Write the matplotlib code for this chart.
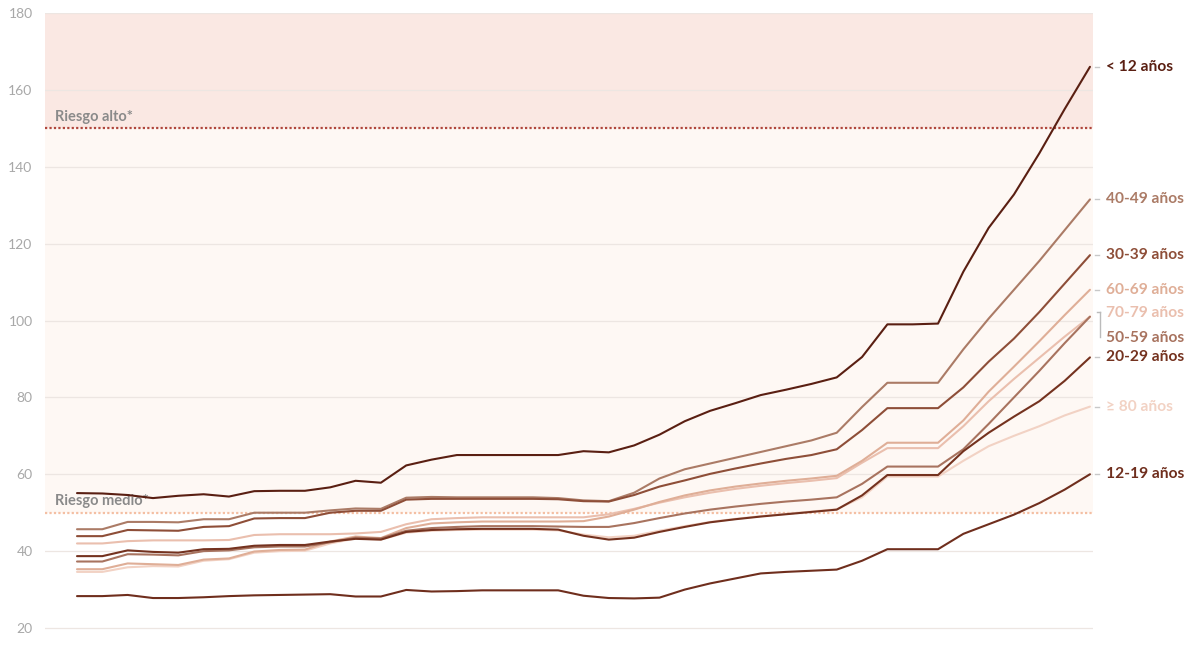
import matplotlib
matplotlib.use("Agg")
import matplotlib.pyplot as plt
import matplotlib.transforms as mtransforms

plt.rcParams['font.family'] = ['Lato', 'DejaVu Sans']

# one value per day
days = list(range(41))

menores_12 = [55.1, 55.0, 54.6, 53.8, 54.4, 54.8, 54.2, 55.6, 55.7, 55.7,
              56.6, 58.3, 57.8, 62.3, 63.8, 65.0, 65.0, 65.0, 65.0, 65.0,
              66.0, 65.7, 67.5, 70.3, 73.8, 76.5, 78.5, 80.6, 82.0, 83.5,
              85.2, 90.5, 99.0, 99.0, 99.2, 112.7, 124.1, 132.8, 143.5, 155.0, 166.0]
edad_12_19 = [28.3, 28.3, 28.6, 27.8, 27.8, 28.0, 28.3, 28.5, 28.6, 28.7,
              28.8, 28.2, 28.2, 29.9, 29.5, 29.6, 29.8, 29.8, 29.8, 29.8,
              28.4, 27.8, 27.7, 27.9, 30.0, 31.6, 32.9, 34.2, 34.6, 34.9,
              35.2, 37.5, 40.5, 40.5, 40.5, 44.5, 47.0, 49.5, 52.5, 56.0, 60.0]
edad_20_29 = [38.7, 38.7, 40.2, 39.8, 39.6, 40.5, 40.6, 41.4, 41.6, 41.6,
              42.5, 43.2, 43.0, 45.0, 45.5, 45.7, 45.8, 45.8, 45.8, 45.6,
              44.0, 43.0, 43.5, 45.0, 46.3, 47.5, 48.3, 49.0, 49.6, 50.2,
              50.8, 54.5, 59.8, 59.8, 59.8, 66.0, 70.8, 75.0, 79.0, 84.3, 90.4]
edad_30_39 = [43.9, 43.9, 45.5, 45.4, 45.3, 46.3, 46.5, 48.5, 48.6, 48.6,
              50.0, 50.5, 50.5, 53.4, 53.6, 53.6, 53.6, 53.6, 53.6, 53.5,
              53.0, 52.9, 54.6, 56.8, 58.4, 60.1, 61.5, 62.8, 64.0, 65.0,
              66.5, 71.5, 77.2, 77.2, 77.2, 82.6, 89.3, 95.3, 102.2, 109.6, 117.0]
edad_40_49 = [45.7, 45.7, 47.6, 47.6, 47.5, 48.3, 48.3, 50.0, 50.0, 50.0,
              50.6, 51.1, 51.0, 53.9, 54.1, 54.0, 54.0, 54.0, 54.0, 53.8,
              53.2, 53.0, 55.2, 58.9, 61.3, 62.8, 64.3, 65.8, 67.3, 68.8,
              70.8, 77.5, 83.8, 83.8, 83.8, 92.5, 100.5, 108.0, 115.5, 123.5, 131.5]
edad_50_59 = [37.3, 37.3, 39.2, 39.1, 38.9, 40.0, 40.2, 41.0, 41.2, 41.2,
              42.3, 43.5, 43.3, 45.3, 46.0, 46.3, 46.5, 46.5, 46.5, 46.4,
              46.3, 46.3, 47.3, 48.6, 49.8, 50.8, 51.6, 52.3, 52.9, 53.4,
              54.0, 57.5, 62.0, 62.0, 62.0, 66.5, 73.1, 80.0, 86.9, 94.1, 101.0]
edad_60_69 = [35.3, 35.3, 36.8, 36.6, 36.4, 37.8, 38.1, 39.9, 40.3, 40.4,
              42.5, 43.8, 43.4, 46.0, 47.2, 47.5, 47.7, 47.7, 47.7, 47.7,
              47.8, 49.0, 50.8, 52.8, 54.5, 55.8, 56.8, 57.6, 58.3, 58.9,
              59.6, 63.5, 68.2, 68.2, 68.2, 74.0, 81.5, 88.0, 94.6, 101.4, 108.0]
edad_70_79 = [42.0, 42.0, 42.6, 42.8, 42.8, 42.8, 42.9, 44.2, 44.4, 44.4,
              44.4, 44.6, 45.0, 47.0, 48.3, 48.6, 48.8, 48.8, 48.8, 48.8,
              48.8, 49.6, 51.0, 52.6, 54.0, 55.2, 56.2, 57.0, 57.7, 58.3,
              59.0, 63.0, 66.8, 66.8, 66.8, 72.5, 79.0, 84.8, 90.3, 95.8, 101.0]
mayores_80 = [34.6, 34.6, 35.8, 36.1, 36.0, 37.5, 37.9, 39.6, 40.0, 40.1,
              42.0, 43.3, 43.0, 44.8, 45.3, 45.5, 45.6, 45.6, 45.6, 45.4,
              44.3, 43.6, 44.0, 45.3, 46.5, 47.6, 48.4, 49.1, 49.7, 50.3,
              50.9, 54.0, 59.4, 59.4, 59.4, 63.5, 67.3, 70.0, 72.5, 75.3, 77.6]

# drawn from lightest to darkest so dark lines sit on top
series = [
    ("≥ 80 años", mayores_80, "#f2d2c4"),
    ("70-79 años", edad_70_79, "#eabfae"),
    ("60-69 años", edad_60_69, "#dfae97"),
    ("50-59 años", edad_50_59, "#a8735f"),
    ("40-49 años", edad_40_49, "#ab7b66"),
    ("30-39 años", edad_30_39, "#8e4e38"),
    ("20-29 años", edad_20_29, "#74321f"),
    ("12-19 años", edad_12_19, "#6f2e1d"),
    ("< 12 años", menores_12, "#5a1f12"),
]

# nudges for labels that would overlap
label_shift = {"70-79 años": 1.0, "50-59 años": -5.6}

umbral_alto = 150
umbral_medio = 50

fig = plt.figure(figsize=(12, 6.47), dpi=100)
ax = fig.add_axes([45 / 1200, 0, 1048 / 1200, 634 / 647])
ax.set_xlim(-1.264, 40.12)
ax.set_ylim(15.06, 180)

ax.axhspan(umbral_alto, 180, color="#fae8e3", lw=0, zorder=0)
ax.axhspan(umbral_medio, umbral_alto, color="#fef8f4", lw=0, zorder=0)

for v in range(20, 181, 20):
    ax.axhline(v, color="#ede6e2", lw=0.9, zorder=1)

ax.axhline(umbral_alto, color="#b0463c", lw=1.6, ls=(0, (1, 1)), zorder=2)
ax.axhline(umbral_medio, color="#f4bfa3", lw=1.6, ls=(0, (1, 1)), zorder=2)
ax.text(-0.85, umbral_alto + 1.0, "Riesgo alto*", color="#8a8a8a",
        fontsize=10.5, fontweight="bold", va="bottom", zorder=3)
ax.text(-0.85, umbral_medio + 1.2, "Riesgo medio*", color="#8a8a8a",
        fontsize=10.5, fontweight="bold", va="bottom", zorder=3)

for name, vals, col in series:
    ax.plot(days, vals, color=col, lw=1.5, zorder=4, solid_capstyle="round",
            solid_joinstyle="round")

trans = mtransforms.blended_transform_factory(ax.transAxes, ax.transData)
for name, vals, col in series:
    y = vals[-1] + label_shift.get(name, 0)
    if name not in label_shift:
        ax.plot([1.002, 1.006], [y, y], transform=trans, color="#c8c8c8",
                lw=1, clip_on=False)
    ax.text(1.012, y, name, transform=trans, color=col, fontsize=11.2,
            fontweight="bold", va="center", ha="left", clip_on=False)

# bracket joining the two labels that share an end value
yb1 = edad_70_79[-1] + 1.2
yb2 = edad_50_59[-1] - 5.4
ax.plot([1.007, 1.007], [yb1, yb2], transform=trans, color="#bbbbbb",
        lw=1, clip_on=False)
ax.plot([1.004, 1.007], [yb1, yb1], transform=trans, color="#bbbbbb",
        lw=1, clip_on=False)

ax.set_yticks(range(20, 181, 20))
ax.tick_params(axis="y", length=0, pad=9, labelsize=10, labelcolor="#a8a8a8")
ax.set_xticks([])
for s in ax.spines.values():
    s.set_visible(False)
ax.set_facecolor("white")

fig.savefig("out.png", dpi=100, facecolor="white")
